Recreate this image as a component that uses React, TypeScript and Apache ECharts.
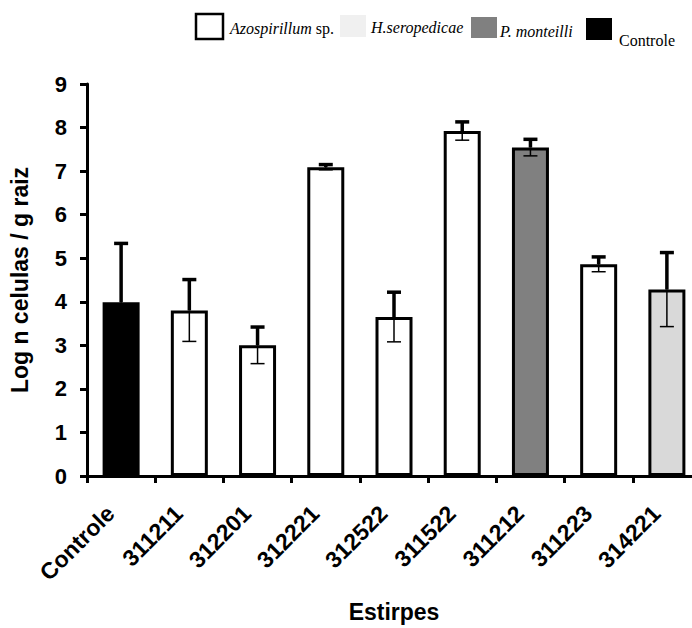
import React, { useEffect, useRef } from "react";
import * as echarts from "echarts";

const categories = ["Controle", "311211", "312201", "312221", "312522", "311522", "311212", "311223", "314221"];
const values = [3.99, 3.8, 3.0, 7.09, 3.65, 7.92, 7.54, 4.86, 4.28];
const errors = [1.35, 0.71, 0.42, 0.06, 0.57, 0.21, 0.19, 0.17, 0.85];
const groups = ["Controle", "Azospirillum", "Azospirillum", "Azospirillum", "Azospirillum", "Azospirillum", "P. monteilli", "Azospirillum", "H.seropedicae"];
const yTicks = [0, 1, 2, 3, 4, 5, 6, 7, 8, 9];
const legendNames = ["Azospirillum", "H.seropedicae", "P. monteilli", "Controle"];

const barColors: Record<string, string> = {
  Controle: "#000000",
  Azospirillum: "#ffffff",
  "P. monteilli": "#808080",
  "H.seropedicae": "#d9d9d9",
};

const SANS = "'Liberation Sans', Arial, sans-serif";
const SERIF = "'Liberation Serif', 'Times New Roman', serif";

export default function App() {
  const ref = useRef<HTMLDivElement>(null);
  useEffect(() => {
    if (!ref.current) return;
    const chart = echarts.init(ref.current, undefined, { renderer: "svg" });

    const legendGraphic: any[] = [
      { type: "rect", shape: { x: 196, y: 14, width: 27, height: 25 }, style: { fill: "#ffffff", stroke: "#000", lineWidth: 2.5 } },
      {
        type: "text", x: 230, y: 28,
        style: {
          text: "{i|" + legendNames[0] + "}{n| sp.}",
          verticalAlign: "middle",
          rich: {
            i: { fontFamily: SERIF, fontStyle: "italic", fontSize: 16, fill: "#000" },
            n: { fontFamily: SERIF, fontSize: 16, fill: "#000" },
          },
        },
      },
      { type: "rect", shape: { x: 340, y: 15, width: 26, height: 22 }, style: { fill: "#f0f0f0" } },
      { type: "text", x: 371, y: 27, style: { text: legendNames[1], fontFamily: SERIF, fontStyle: "italic", fontSize: 16, fill: "#000", verticalAlign: "middle" } },
      { type: "rect", shape: { x: 471, y: 17, width: 26, height: 21 }, style: { fill: "#808080" } },
      { type: "text", x: 500, y: 31, style: { text: legendNames[2], fontFamily: SERIF, fontStyle: "italic", fontSize: 16, fill: "#000", verticalAlign: "middle" } },
      { type: "rect", shape: { x: 586, y: 18, width: 26, height: 22 }, style: { fill: "#000000" } },
      { type: "text", x: 619, y: 40, style: { text: legendNames[3], fontFamily: SERIF, fontSize: 16, fill: "#000", verticalAlign: "middle" } },
    ];

    chart.setOption({
      animation: false,
      backgroundColor: "#ffffff",
      grid: { left: 79, top: 84, bottom: 140, right: 0, containLabel: false },
      graphic: legendGraphic,
      xAxis: {
        type: "category",
        data: categories,
        name: "Estirpes",
        nameLocation: "middle",
        nameGap: 124,
        nameTextStyle: { fontFamily: SANS, fontWeight: "bold", fontSize: 23, color: "#000" },
        axisLine: { lineStyle: { color: "#000", width: 3 } },
        axisTick: { show: true, alignWithLabel: false, length: 7, lineStyle: { color: "#000", width: 3 } },
        axisLabel: {
          rotate: 45, margin: 23, padding: [0, 15, 0, 0],
          fontFamily: SANS, fontWeight: "bold", fontSize: 23, color: "#000", interval: 0,
        },
      },
      yAxis: {
        type: "value",
        min: 0,
        max: 9,
        interval: 1,
        name: "Log n celulas / g raiz",
        nameLocation: "middle",
        nameRotate: 90,
        nameGap: 56,
        nameTextStyle: { fontFamily: SANS, fontWeight: "bold", fontSize: 23, color: "#000" },
        axisLine: { show: true, lineStyle: { color: "#000", width: 3 } },
        axisTick: { show: true, length: 7, lineStyle: { color: "#000", width: 3 } },
        axisLabel: {
          margin: 20, fontFamily: SANS, fontWeight: "bold", fontSize: 22, color: "#000",
          formatter: (v: number) => (yTicks.indexOf(v) >= 0 ? String(v) : ""),
        },
        splitLine: { show: false },
      },
      series: [
        {
          type: "bar",
          barWidth: 37,
          data: values.map((v, i) => ({
            value: v,
            itemStyle: { color: barColors[groups[i]], borderColor: "#000", borderWidth: 3 },
          })),
          z: 2,
        },
        {
          type: "custom",
          z: 5,
          data: values.map((v, i) => [i, v, errors[i]]),
          renderItem: (params: any, api: any) => {
            const idx = api.value(0);
            const v = api.value(1);
            const e = api.value(2);
            const mid = api.coord([idx, v]);
            const top = api.coord([idx, v + e]);
            const bot = api.coord([idx, v - e]);
            const x = mid[0];
            const cw = 7;
            return {
              type: "group",
              children: [
                { type: "line", shape: { x1: x, y1: mid[1], x2: x, y2: top[1] }, style: { stroke: "#000", lineWidth: 3.5 } },
                { type: "line", shape: { x1: x - cw, y1: top[1], x2: x + cw, y2: top[1] }, style: { stroke: "#000", lineWidth: 3.5 } },
                { type: "line", shape: { x1: x, y1: mid[1], x2: x, y2: bot[1] }, style: { stroke: "#000", lineWidth: 1.5 } },
                { type: "line", shape: { x1: x - cw, y1: bot[1], x2: x + cw, y2: bot[1] }, style: { stroke: "#000", lineWidth: 1.5 } },
              ],
            };
          },
        },
      ],
    });
    return () => chart.dispose();
  }, []);
  return (
    <div style={{ position: "fixed", left: 0, top: 0, width: 692, height: 628, overflow: "hidden", background: "#fff" }}>
      <div ref={ref} style={{ width: 701, height: 628 }} />
    </div>
  );
}
